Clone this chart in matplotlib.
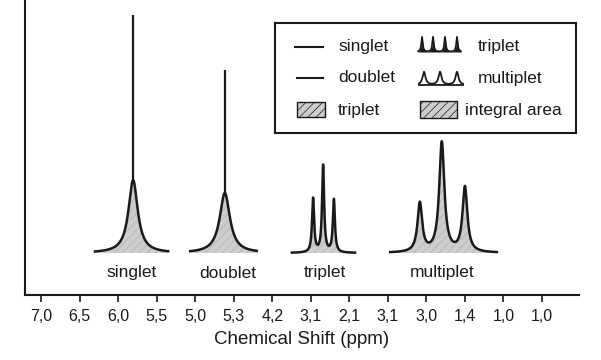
import numpy as np
import matplotlib
matplotlib.use("Agg")
import matplotlib.pyplot as plt
from matplotlib.patches import Rectangle

plt.rcParams['font.family'] = ['Liberation Sans', 'DejaVu Sans']
plt.rcParams['hatch.linewidth'] = 0.5

# tick labels as printed on the axis
tick_labels = ["7,0", "6,5", "6,0", "5,5", "5,0", "5,3", "4,2",
               "3,1", "2,1", "3,1", "3,0", "1,4", "1,0", "1,0"]

group_names = ["singlet", "doublet", "triplet", "multiplet"]
group_label_x = [2.36, 4.85, 7.37, 10.40]

# peak centres (axis tick units), heights and half widths per group
singlet_pos = [2.39]
singlet_h = [73]
singlet_w = [0.145]
singlet_spike = 238

doublet_pos = [4.77]
doublet_h = [60]
doublet_w = [0.16]
doublet_spike = 183

triplet_pos = [7.06, 7.32, 7.60]
triplet_h = [54, 87, 53]
triplet_w = [0.032, 0.032, 0.032]

multiplet_pos = [9.83, 10.40, 11.00]
multiplet_h = [49, 110, 65]
multiplet_w = [0.072, 0.08, 0.075]

group_range = [(1.40, 3.30), (3.87, 5.60), (6.51, 8.15), (9.06, 11.83)]

GREY = '#cdcdcd'
HATCH = '#b0b0b0'
INK = '#1a1a1a'


def lorentz(x, pos, h, w):
    y = np.zeros_like(x)
    for p, a, g in zip(pos, h, w):
        y += a / (1 + ((x - p) / g) ** 2)
    return y


fig = plt.figure(figsize=(6.01, 3.6), dpi=100)
ax = fig.add_axes([25 / 601, 65 / 360, 554 / 601, 295 / 360])

groups = [(singlet_pos, singlet_h, singlet_w, singlet_spike),
          (doublet_pos, doublet_h, doublet_w, doublet_spike),
          (triplet_pos, triplet_h, triplet_w, None),
          (multiplet_pos, multiplet_h, multiplet_w, None)]

for (pos, h, w, spike), (x0, x1) in zip(groups, group_range):
    x = np.linspace(x0, x1, 1500)
    y = lorentz(x, pos, h, w)
    ax.fill_between(x, 0, y, facecolor=GREY, edgecolor=HATCH,
                    hatch='////', linewidth=0, zorder=2)
    ax.plot(x, y, color=INK, lw=1.8, zorder=3, solid_joinstyle='round')
    if spike is not None:
        ax.vlines(pos[0], h[0] - 3, spike, color=INK, lw=1.6, zorder=4)

for name, gx in zip(group_names, group_label_x):
    ax.text(gx, -20, name, ha='center', va='center', fontsize=12.5, color=INK)

ax.set_xlim(-0.415, 13.96)
ax.set_ylim(-42, 253)
ax.set_xticks(range(len(tick_labels)))
ax.set_xticklabels(tick_labels, fontsize=11.5, color=INK)
ax.set_yticks([])
ax.tick_params(axis='x', length=5, width=1.2, color=INK, pad=5)
for s in ['top', 'right']:
    ax.spines[s].set_visible(False)
for s in ['left', 'bottom']:
    ax.spines[s].set_linewidth(1.5)
    ax.spines[s].set_color(INK)
ax.set_xlabel("Chemical Shift (ppm)", fontsize=13.5, color=INK, labelpad=5)

# legend box drawn in its own small axes (pixel units, y downwards)
lg = fig.add_axes([275 / 601, 1 - 133 / 360, 301 / 601, 110 / 360])
lg.set_xlim(0, 301)
lg.set_ylim(110, 0)
lg.set_xticks([])
lg.set_yticks([])
for s in lg.spines.values():
    s.set_linewidth(1.5)
    s.set_color(INK)

lg.plot([20, 48], [24, 24], color=INK, lw=1.5)
lg.plot([22, 48], [55, 55], color=INK, lw=1.5)
lg.add_patch(Rectangle((22, 79), 28, 15, facecolor=GREY, edgecolor=INK,
                       hatch='////', lw=1))
lg.add_patch(Rectangle((145, 78), 37, 17, facecolor=GREY, edgecolor=INK,
                       hatch='////', lw=1))

# small spike glyphs
gx = np.linspace(143, 186, 600)
gy = 29 - lorentz(gx, [147, 158, 170, 182], [15, 15, 15, 15], [0.9] * 4)
lg.fill_between(gx, 29, gy, color=INK, lw=0)
lg.plot(gx, gy, color=INK, lw=1.2)
mx = np.linspace(144, 188, 600)
my = 62 - lorentz(mx, [149, 165, 182], [13, 13, 13], [1.8] * 3)
lg.plot(mx, my, color=INK, lw=1.3)
lg.plot([144, 188], [62, 62], color=INK, lw=1.3)

lg.text(63, 24, "singlet", va='center', fontsize=12.5, color=INK)
lg.text(63, 55, "doublet", va='center', fontsize=12.5, color=INK)
lg.text(63, 87, "triplet", va='center', fontsize=12.5, color=INK)
lg.text(203, 24, "triplet", va='center', fontsize=12.5, color=INK)
lg.text(203, 55, "multiplet", va='center', fontsize=12.5, color=INK)
lg.text(190, 87, "integral area", va='center', fontsize=12.5, color=INK)

fig.savefig("out.png", dpi=100)
